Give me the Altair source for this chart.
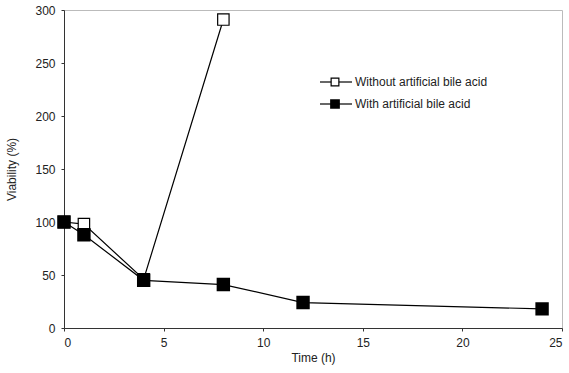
import altair as alt
import pandas as pd

time_without = [0, 1, 4, 8]
viab_without = [100, 98, 46, 291]
time_with = [0, 1, 4, 8, 12, 24]
viab_with = [100, 88, 45, 41, 24, 18]

df_wo = pd.DataFrame({"t": time_without, "v": viab_without})
df_w = pd.DataFrame({"t": time_with, "v": viab_with})

FONT = "Liberation Sans"

x = alt.X("t:Q", scale=alt.Scale(domain=[0, 25], nice=False),
          axis=alt.Axis(title="Time (h)", values=[0, 5, 10, 15, 20, 25], grid=False,
                        tickSize=3, labelPadding=6, titlePadding=4))
y = alt.Y("v:Q", scale=alt.Scale(domain=[0, 300], nice=False),
          axis=alt.Axis(title="Viability (%)", values=[0, 50, 100, 150, 200, 250, 300], grid=False,
                        tickSize=3, labelPadding=6, titlePadding=16))

line_wo = alt.Chart(df_wo).mark_line(color="black", strokeWidth=1.2).encode(x=x, y=y)
pts_wo = alt.Chart(df_wo).mark_square(size=130, fill="white", stroke="black", strokeWidth=1.2, opacity=1).encode(x="t:Q", y="v:Q")
line_w = alt.Chart(df_w).mark_line(color="black", strokeWidth=1.2).encode(x="t:Q", y="v:Q")
pts_w = alt.Chart(df_w).mark_square(size=130, fill="black", stroke="black", opacity=1).encode(x="t:Q", y="v:Q")

leg_labels = ["Without artificial bile acid", "With artificial bile acid"]
leg_df = pd.DataFrame({"label": leg_labels})

LX0, LX1, LSQ, LTX = 256, 288, 271, 291
LY1, LY2 = 72, 94

leg_rule1 = alt.Chart(leg_df.iloc[[0]]).mark_rule(color="black", strokeWidth=1.2).encode(
    x=alt.value(LX0), x2=alt.value(LX1), y=alt.value(LY1))
leg_rule2 = alt.Chart(leg_df.iloc[[1]]).mark_rule(color="black", strokeWidth=1.2).encode(
    x=alt.value(LX0), x2=alt.value(LX1), y=alt.value(LY2))
leg_sq1 = alt.Chart(leg_df.iloc[[0]]).mark_square(size=60, fill="white", stroke="black", strokeWidth=1.2, opacity=1).encode(
    x=alt.value(LSQ), y=alt.value(LY1))
leg_sq2 = alt.Chart(leg_df.iloc[[1]]).mark_square(size=60, fill="black", stroke="black", opacity=1).encode(
    x=alt.value(LSQ), y=alt.value(LY2))
leg_t1 = alt.Chart(leg_df.iloc[[0]]).mark_text(align="left", baseline="middle", font=FONT, fontSize=12, color="#222").encode(
    x=alt.value(LTX), y=alt.value(LY1), text="label:N")
leg_t2 = alt.Chart(leg_df.iloc[[1]]).mark_text(align="left", baseline="middle", font=FONT, fontSize=12, color="#222").encode(
    x=alt.value(LTX), y=alt.value(LY2), text="label:N")

chart = alt.layer(line_wo, pts_wo, line_w, pts_w, leg_rule1, leg_rule2, leg_sq1, leg_sq2, leg_t1, leg_t2).properties(
    width=498, height=318,
    autosize=alt.AutoSizeParams(type="none"),
    padding={"left": 64, "top": 10, "right": 7, "bottom": 45},
    background="white",
).configure_view(stroke="#bbb", strokeWidth=1).configure_axis(
    domainColor="#333", tickColor="#333", labelFont=FONT, titleFont=FONT,
    labelFontSize=12, titleFontSize=12, labelColor="#222", titleColor="#222",
    titleFontWeight="normal"
)

chart.save("out.html", embed_options={"renderer": "svg", "actions": False})
